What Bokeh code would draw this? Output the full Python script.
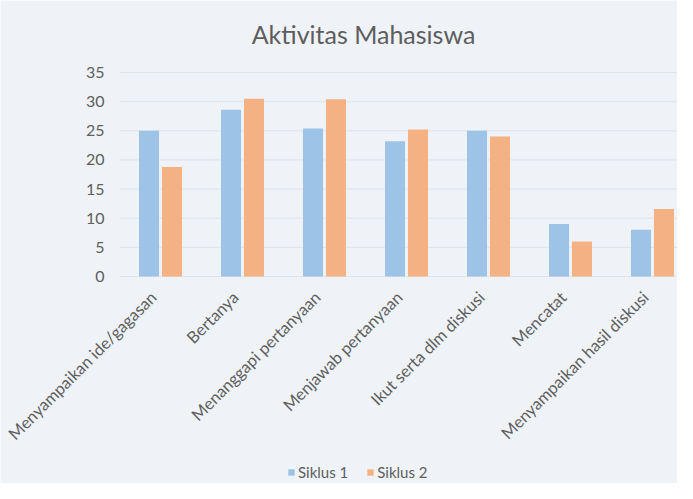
import math
from bokeh.plotting import figure
from bokeh.models import ColumnDataSource, Range1d, Legend, LegendItem, Label
from bokeh.core.properties import value
from bokeh.transform import dodge
from bokeh.embed import file_html
from bokeh.resources import INLINE

categories = ["Menyampaikan ide/gagasan", "Bertanya", "Menanggapi pertanyaan",
              "Menjawab pertanyaan", "Ikut serta dlm diskusi", "Mencatat",
              "Menyampaikan hasil diskusi"]
siklus1 = [25.0, 28.6, 25.4, 23.2, 25.0, 9.0, 8.0]
siklus2 = [18.8, 30.5, 30.4, 25.2, 24.0, 6.0, 11.6]
y_ticks = [0, 5, 10, 15, 20, 25, 30, 35]
series_names = ["Siklus 1", "Siklus 2"]
title_text = "Aktivitas Mahasiswa"

BLUE = "#9dc3e6"
ORANGE = "#f4b183"
BG = "#eff3f8"
GRID = "#dde3ea"
FONT = "Lato"
TXT = "#5e5e5e"

W, H = 677, 483
# layout (pixels inside the figure)
PLOT_LEFT, PLOT_TOP, PLOT_BOTTOM = 119, 72, 276   # plot area: y=35 at top, y=0 at bottom
CAT_W = 82                                        # pixels per category
Y_MAX = y_ticks[-1]
px_y = (PLOT_BOTTOM - PLOT_TOP) / Y_MAX
x_start = -0.5 - PLOT_LEFT / CAT_W
x_end = x_start + W / CAT_W
y_top = Y_MAX + PLOT_TOP / px_y
y_bot = -(H - PLOT_BOTTOM) / px_y

idx = list(range(len(categories)))
src = ColumnDataSource(dict(x=idx, s1=siklus1, s2=siklus2, label=categories))
ysrc = ColumnDataSource(dict(y=y_ticks, t=[str(v) for v in y_ticks]))

p = figure(width=W, height=H, output_backend="svg", toolbar_location=None,
           x_range=Range1d(x_start, x_end), y_range=Range1d(y_bot, y_top),
           x_axis_location=None, y_axis_location=None,
           background_fill_color=BG, border_fill_color=BG, min_border=0)
p.outline_line_color = None
p.grid.visible = False

# horizontal gridlines across the plot area
p.segment(x0=-0.5, x1=x_end, y0="y", y1="y", source=ysrc, line_color=GRID, line_width=1)

r1 = p.vbar(x=dodge("x", -0.14, range=p.x_range), top="s1", width=0.244, source=src,
            fill_color=BLUE, line_color=None)
r2 = p.vbar(x=dodge("x", 0.14, range=p.x_range), top="s2", width=0.244, source=src,
            fill_color=ORANGE, line_color=None)

# value axis labels
p.text(x=-0.5, y="y", text="t", source=ysrc, x_offset=-15,
       text_align="right", text_baseline="middle",
       text_font=value(FONT), text_font_size=value("16px"), text_color=TXT)

# category labels, rotated 45 degrees
p.text(x="x", y=0, text="label", source=src, angle=math.pi / 4,
       text_align="right", text_baseline="middle", x_offset=-7, y_offset=18,
       text_font=value(FONT), text_font_size=value("16.5px"), text_color=TXT)

# chart title
p.add_layout(Label(x=x_start + 363 / CAT_W, y=y_top - 33 / px_y, text=title_text,
                   text_align="center", text_baseline="middle",
                   text_font=FONT, text_font_size="25px", text_color=TXT))

legend = Legend(items=[LegendItem(label=series_names[0], renderers=[r1]),
                       LegendItem(label=series_names[1], renderers=[r2])],
                orientation="horizontal", location=(287, 2),
                background_fill_alpha=0, border_line_color=None,
                glyph_width=8, glyph_height=8, label_text_font=FONT,
                label_text_font_size="15px", label_text_color=TXT,
                spacing=18, label_standoff=3, padding=0, margin=0,
                label_height=16)
p.add_layout(legend, "center")

open("out.html", "w").write(file_html(p, INLINE))
